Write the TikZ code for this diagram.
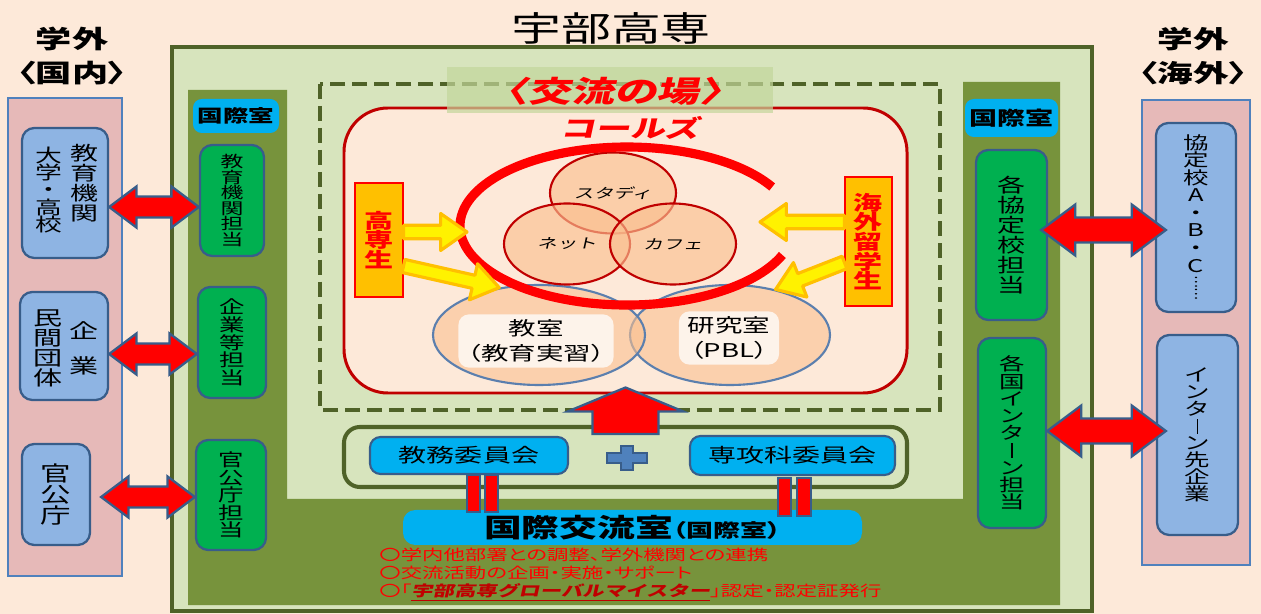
\documentclass[tikz,border=0pt]{standalone}
\usepackage{fontspec}
\usepackage{graphicx}
\setmainfont{Noto Sans CJK JP}[FakeStretch=1.45]
\newfontfamily\slantjp{Noto Sans CJK JP}[FakeStretch=1.45,FakeSlant=0.22]
\newfontfamily\propjp{Noto Sans CJK JP}[FakeStretch=1.45,RawFeature=+palt]
\usepackage{tikz}
\usetikzlibrary{
  calc,
  positioning,
  shapes.geometric,
}
\definecolor{peach}{HTML}{FDE9D9}
\definecolor{pinkfill}{HTML}{E6B9B8}
\definecolor{frameblue}{HTML}{4F81BD}
\definecolor{edgeblue}{HTML}{385D8A}
\definecolor{paleblue}{HTML}{8EB4E3}
\definecolor{leafgreen}{HTML}{00B050}
\definecolor{skyblue}{HTML}{00B0F0}
\definecolor{palegreen}{HTML}{D7E4BD}
\definecolor{mossgreen}{HTML}{77933C}
\definecolor{darkolive}{HTML}{4F6228}
\definecolor{bandgreen}{HTML}{C3D69B}
\definecolor{darkred}{HTML}{C00000}
\definecolor{apricot}{HTML}{FAC090}
\definecolor{amber}{HTML}{FFC000}
\definecolor{ellblue}{HTML}{5B7FAE}

\newcommand{\jpsize}[2]{\fontsize{#1pt}{#2pt}\selectfont}
\newcommand{\vchoon}{\rule[-0.05em]{0.08em}{0.85em}}
\newcommand{\tatedots}{\rotatebox[origin=c]{90}{\scalebox{0.45}[1]{……}}}
% fat arrow: style, from, to, shaft half, head half, head length
\newcommand{\fatarrow}[6]{%
  \draw[#1] let \p1=(#2), \p2=(#3),
    \n1={atan2(\y2-\y1,\x2-\x1)}, \n2={veclen(\x2-\x1,\y2-\y1)} in
    ($(\p1)+(\n1+90:#4)$)
    -- ($(\p1)+(\n1:\n2-#6)+(\n1+90:#4)$)
    -- ($(\p1)+(\n1:\n2-#6)+(\n1+90:#5)$)
    -- (\p2)
    -- ($(\p1)+(\n1:\n2-#6)+(\n1-90:#5)$)
    -- ($(\p1)+(\n1:\n2-#6)+(\n1-90:#4)$)
    -- ($(\p1)+(\n1-90:#4)$) -- cycle;}
% same with a head at both ends
\newcommand{\twowayarrow}[6]{%
  \draw[#1] let \p1=(#2), \p2=(#3),
    \n1={atan2(\y2-\y1,\x2-\x1)}, \n2={veclen(\x2-\x1,\y2-\y1)} in
    (\p1)
    -- ($(\p1)+(\n1:#6)+(\n1+90:#5)$)
    -- ($(\p1)+(\n1:#6)+(\n1+90:#4)$)
    -- ($(\p1)+(\n1:\n2-#6)+(\n1+90:#4)$)
    -- ($(\p1)+(\n1:\n2-#6)+(\n1+90:#5)$)
    -- (\p2)
    -- ($(\p1)+(\n1:\n2-#6)+(\n1-90:#5)$)
    -- ($(\p1)+(\n1:\n2-#6)+(\n1-90:#4)$)
    -- ($(\p1)+(\n1:#6)+(\n1-90:#4)$)
    -- ($(\p1)+(\n1:#6)+(\n1-90:#5)$)
    -- cycle;}

\begin{document}
\begin{tikzpicture}[x=0.02cm, y=-0.02cm,
  panel/.style={draw=frameblue, fill=pinkfill, line width=1.2pt, inner sep=0pt},
  partner/.style={draw=edgeblue, fill=paleblue, line width=1.3pt, rounded corners=7pt, inner sep=0pt, align=center},
  desk/.style={draw=edgeblue, fill=leafgreen, line width=1.3pt, rounded corners=7pt, inner sep=0pt, align=center},
  tag/.style={fill=skyblue, rounded corners=5pt, inner sep=0pt, font=\bfseries\jpsize{10}{12}},
  vlabel/.style={align=center, inner sep=0pt},
  student/.style={draw=red, fill=amber, line width=0.6pt, inner sep=0pt, align=center, text=red, font=\bfseries\jpsize{11.4}{11.2}},
  bubble/.style={ellipse, draw=darkred, line width=1.2pt, fill=apricot, fill opacity=0.65, text opacity=1, inner sep=0pt, minimum width=126*\pxu, minimum height=81*\pxu, font=\slantjp\jpsize{7.8}{9}},
  room/.style={ellipse, draw=ellblue, line width=1.2pt, fill=apricot, fill opacity=0.6, inner sep=0pt},
  glow/.style={fill=white, fill opacity=0.75, text opacity=1, rounded corners=6pt, inner xsep=5pt, inner ysep=3pt, align=center, font=\propjp\jpsize{10.8}{14.2}},
  committee/.style={draw=edgeblue, fill=skyblue, line width=1.2pt, rounded corners=6pt, inner sep=0pt, font=\jpsize{11}{12}},
  redarrow/.style={fill=red, draw=edgeblue, line width=1.3pt},
  yellowarrow/.style={fill=yellow, draw=amber, line width=1.8pt, line join=round},
  eqbar/.style={fill=red, draw=edgeblue, line width=1pt},
]
  \def\pxu{0.02cm}
  \useasboundingbox (0,0) rectangle (1261,614);
  \fill[peach] (0,0) rectangle (1261,614);

  % partners outside, domestic
  \node[panel, minimum width=114*\pxu, minimum height=478*\pxu] (domestic) at (65,337) {};
  \node[partner, minimum width=86*\pxu, minimum height=130*\pxu] (eduOut) at (65,193) {};
  \node[vlabel, font=\jpsize{11}{11.4}] (eduOutA) at (85,183) {教\\育\\機\\関};
  \node[vlabel, font=\jpsize{10.5}{9.8}] (eduOutB) at (49,190) {大\\学\\・\\高\\校};
  \node[partner, minimum width=88*\pxu, minimum height=108*\pxu] (bizOut) at (64,346) {};
  \node[vlabel, font=\jpsize{11.4}{11.4}] (bizOutA) at (48,348) {民\\間\\団\\体};
  \node[vlabel, font=\jpsize{11.4}{20}] (bizOutB) at (84,348) {企\\業};
  \node[partner, minimum width=68*\pxu, minimum height=101*\pxu, font=\jpsize{12}{12}] (govOut) at (56,494.5) {官\\公\\庁};
  \node[font=\bfseries\propjp\jpsize{14.2}{19}, align=center] (domTitle) at (72,56) {学外\\〈国内〉};

  % partners outside, overseas
  \node[panel, minimum width=108*\pxu, minimum height=465*\pxu] (overseas) at (1196,332.5) {};
  \node[partner, minimum width=80*\pxu, minimum height=189*\pxu, font=\jpsize{10}{10}] (agreeOut) at (1196,217.5) {協\\定\\校\\A\\・\\B\\・\\C\\\tatedots};
  \node[partner, minimum width=81*\pxu, minimum height=200*\pxu, font=\jpsize{10}{9.7}] (internOut) at (1197.5,435) {イ\\ン\\タ\\\vchoon\\ン\\先\\企\\業};
  \node[font=\bfseries\propjp\jpsize{14}{19}, align=center] (ovsTitle) at (1193,56) {学外\\〈海外〉};

  % the school
  \node[draw=darkolive, line width=2.3pt, fill=palegreen, inner sep=0pt, minimum width=920*\pxu, minimum height=564*\pxu] (ube) at (632,329) {};
  \node[font=\jpsize{19.6}{22}] (ubeName) at (611,28) {宇部高専};
  \fill[mossgreen] (188,90) -- (287,90) -- (287,499) -- (963,499) -- (963,82)
    -- (1060,82) -- (1060,605) -- (188,605) -- cycle;

  % place of exchange
  \draw[darkolive, line width=2.3pt, dash pattern=on 8.5pt off 4pt] (320,84) rectangle (940,410);
  \node[draw=darkred, line width=1.7pt, fill=peach, rounded corners=25pt, minimum width=563*\pxu, minimum height=285*\pxu] (colles) at (625.5,250.5) {};
  \fill[bandgreen, fill opacity=0.7] (447,67) rectangle (773,113);
  \node[font=\slantjp\bfseries\jpsize{16.8}{18}, text=red] (kouryu) at (614,91) {〈交流の場〉};
  \node[font=\slantjp\bfseries\jpsize{13.7}{15}, text=red] (collesName) at (630,128) {コールズ};

  % rooms
  \node[room, minimum width=200*\pxu, minimum height=100*\pxu] (kenkyu) at (730,335) {};
  \node[room, minimum width=212*\pxu, minimum height=100*\pxu] (kyoshitsu) at (539,335) {};
  \node[glow] (kyoshitsuText) at (536,341) {教室\\（教育実習）};
  \node[glow] (kenkyuText) at (729,338) {研究室\\（PBL）};

  % three circles and the ring
  \node[bubble] (study) at (613,193) {スタディ};
  \node[bubble] (net) at (567,244) {ネット};
  \node[bubble] (cafe) at (673,244) {カフェ};
  \coordinate (ringC) at (627,226);
  \draw[red, line width=5.2pt] ($(ringC)+(145.2,-39)$)
    arc[start angle=-29.6, end angle=-338.5, x radius=167, y radius=79];

  % students
  \node[student, minimum width=48*\pxu, minimum height=114*\pxu] (kosen) at (379,240) {高\\専\\生};
  \node[student, minimum width=47*\pxu, minimum height=129*\pxu] (ryugaku) at (868.5,241.5) {海\\外\\留\\学\\生};
  \coordinate (ringW) at (467,232);
  \coordinate (ringE) at (760,222);
  \fatarrow{yellowarrow}{$(kosen.east)+(0,-8)$}{ringW}{3.8pt}{10.5pt}{15pt}
  \fatarrow{yellowarrow}{$(kosen.east)+(0,26)$}{kyoshitsu.130}{3.8pt}{10.5pt}{15pt}
  \fatarrow{yellowarrow}{$(ryugaku.west)+(0,-19.5)$}{ringE}{3.8pt}{10.5pt}{15pt}
  \fatarrow{yellowarrow}{$(ryugaku.west)+(0,21)$}{kenkyu.45}{3.8pt}{10.5pt}{15pt}

  % committees
  \node[draw=darkolive, line width=2.3pt, fill=palegreen, rounded corners=9pt, minimum width=563*\pxu, minimum height=60*\pxu] (iinkai) at (625.5,457) {};
  \node[committee, minimum width=198*\pxu, minimum height=37*\pxu] (kyomu) at (469,455.5) {教務委員会};
  \node[committee, minimum width=205*\pxu, minimum height=39*\pxu] (senko) at (792.5,455.5) {専攻科委員会};
  \coordinate (plus) at (627,458);
  \draw[fill=frameblue, draw=edgeblue, line width=0.8pt, shift={(plus)}]
    (-20,-5) -- (-6,-5) -- (-6,-12) -- (6,-12) -- (6,-5) -- (20,-5)
    -- (20,5) -- (6,5) -- (6,12) -- (-6,12) -- (-6,5) -- (-20,5) -- cycle;
  \node[fill=skyblue, rounded corners=7pt, inner sep=0pt, minimum width=459*\pxu, minimum height=35*\pxu, font=\propjp] (kokusai) at (632.5,527.5)
    {{\bfseries\jpsize{14.8}{16}国際交流室}{\bfseries\jpsize{10.6}{12}（国際室）}};
  \draw[eqbar] ($(kyomu.south)+(-2,0)$) rectangle ($(kyomu.south |- kokusai.north)+(11,2)$);
  \draw[eqbar] ($(kyomu.south)+(16,0)$) rectangle ($(kyomu.south |- kokusai.north)+(29,2)$);
  \draw[eqbar] ($(senko.south)+(-14.5,2)$) rectangle ($(senko.south |- kokusai.north)+(-1.5,6)$);
  \draw[eqbar] ($(senko.south)+(4.5,2)$) rectangle ($(senko.south |- kokusai.north)+(18.5,6)$);
  \fatarrow{redarrow}{$(iinkai.north)+(0,9)$}{$(colles.south)+(0,-7)$}{18.8pt}{33pt}{13.7pt}

  % international office desks
  \node[tag, minimum width=86*\pxu, minimum height=34*\pxu] (tagL) at (236,116) {国際室};
  \node[tag, minimum width=93*\pxu, minimum height=38*\pxu, font=\bfseries\jpsize{11}{12}] (tagR) at (1011.5,118) {国際室};
  \node[desk, minimum width=64*\pxu, minimum height=111*\pxu, font=\jpsize{9}{8.8}] (eduIn) at (232,200.5) {教\\育\\機\\関\\担\\当};
  \node[desk, minimum width=68*\pxu, minimum height=111*\pxu, font=\jpsize{10}{10.1}] (bizIn) at (232,342.5) {企\\業\\等\\担\\当};
  \node[desk, minimum width=70*\pxu, minimum height=110*\pxu, font=\jpsize{10}{10}] (govIn) at (231,495) {官\\公\\庁\\担\\当};
  \node[desk, minimum width=71*\pxu, minimum height=170*\pxu, font=\jpsize{11}{11.4}] (agreeIn) at (1011.5,235) {各\\協\\定\\校\\担\\当};
  \node[desk, minimum width=68*\pxu, minimum height=190*\pxu, font=\jpsize{10}{9.8}] (internIn) at (1012,433) {各\\国\\イ\\ン\\タ\\\vchoon\\ン\\担\\当};

  % links
  \twowayarrow{redarrow}{eduOut.east |- 0,207}{eduIn.west |- 0,207}{6pt}{11.7pt}{15.6pt}
  \twowayarrow{redarrow}{bizOut.east |- 0,354}{bizIn.west |- 0,354}{6pt}{11.7pt}{15.6pt}
  \twowayarrow{redarrow}{$(govOut.east |- 0,497)+(10,0)$}{govIn.west |- 0,497}{6pt}{11.7pt}{15.6pt}
  \twowayarrow{redarrow}{$(agreeIn.east |- 0,230)+(-7,0)$}{$(agreeOut.west |- 0,230)+(11,0)$}{7.1pt}{14.5pt}{19.4pt}
  \twowayarrow{redarrow}{internIn.east |- 0,431}{$(internOut.west |- 0,431)+(10,0)$}{7.1pt}{14.5pt}{19.4pt}

  % duties
  \node[anchor=west, align=left, inner sep=0pt, text=red, font=\propjp\jpsize{8.4}{10.3}] (duties) at (379,575)
    {〇学内他部署との調整、学外機関との連携\\
     〇交流活動の企画・実施・サポート\\
     〇「{\slantjp\bfseries\textcolor{darkred}{\underline{宇部高専グローバルマイスター}}}」認定・認定証発行};
\end{tikzpicture}
\end{document}
